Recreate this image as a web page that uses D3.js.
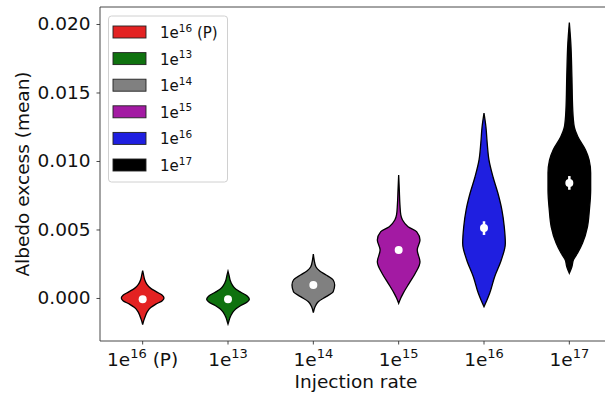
<!DOCTYPE html>
<html><head><meta charset="utf-8">
<script src="https://cdn.jsdelivr.net/npm/d3@7"></script>
<style>body{margin:0;background:#fff}svg{display:block}text{font-family:"DejaVu Sans",sans-serif}</style>
</head><body><svg id="c" width="605" height="395"></svg>
<script>
// ---- data ----
const categories = ["1e16 (P)", "1e13", "1e14", "1e15", "1e16", "1e17"];
const labelBase = ["1e", "1e", "1e", "1e", "1e", "1e"];
const labelExp = ["16", "13", "14", "15", "16", "17"];
const labelSuffix = [" (P)", "", "", "", "", ""];
const colors = ["#e32222", "#0f720f", "#808080", "#a31aa3", "#1f1fe0", "#000000"];
const means = [-0.0001, -0.0001, 0.00095, 0.0035, 0.0051, 0.0084];
const meanErr = [0.0001, 0.0001, 0.0001, 0.00015, 0.0005, 0.0005];
// violin profiles: [value, relative density]
const profRed = [[0.00200,0],[0.00170,0.04],[0.00135,0.09],[0.00100,0.2],[0.00070,0.38],[0.00045,0.65],[0.00020,0.92],[0.0,1.0],[-0.00020,0.92],[-0.00045,0.62],[-0.00070,0.38],[-0.00100,0.22],[-0.00135,0.12],[-0.00165,0.05],[-0.00195,0]];
const profGreen = [[0.00195,0],[0.00165,0.05],[0.0013,0.1],[0.00095,0.2],[0.00065,0.36],[0.0004,0.62],[0.00015,0.9],[-0.0001,1.0],[-0.0003,0.9],[-0.00055,0.6],[-0.0008,0.36],[-0.0011,0.2],[-0.0014,0.1],[-0.0017,0.04],[-0.0019,0]];
const profGray = [[0.00321,0],[0.00277,0.04],[0.00228,0.12],[0.00197,0.3],[0.00168,0.6],[0.00131,0.93],[0.00095,1.0],[0.00046,0.93],[0.0001,0.6],[-0.00027,0.23],[-0.00064,0.08],[-0.00107,0]];
const profPurple = [[0.00898,0],[0.00788,0.03],[0.00679,0.06],[0.00606,0.1],[0.00569,0.18],[0.0052,0.44],[0.00484,0.84],[0.00423,1.0],[0.0035,0.87],[0.00265,1.0],[0.0018,0.78],[0.00107,0.49],[0.00034,0.21],[0.0,0.1],[-0.00039,0]];
const profBlue = [[0.0135,0],[0.0125,0.09],[0.0113,0.15],[0.0101,0.23],[0.00885,0.42],[0.00766,0.65],[0.00642,0.84],[0.0052,0.95],[0.004,1.0],[0.00277,0.81],[0.00155,0.5],[0.00036,0.27],[-0.00015,0.14],[-0.00064,0]];
const profBlack = [[0.0201,0],[0.0186,0.07],[0.01619,0.12],[0.01372,0.16],[0.0125,0.23],[0.01177,0.4],[0.0108,0.76],[0.01007,0.93],[0.00912,1.0],[0.00788,1.0],[0.00642,0.94],[0.0052,0.85],[0.00401,0.62],[0.00328,0.39],[0.00277,0.19],[0.00228,0.12],[0.0018,0]];
const profiles = [profRed, profGreen, profGray, profPurple, profBlue, profBlack];
const yTicks = [0, 0.005, 0.010, 0.015, 0.020];
const yDomain = [-0.00314, 0.02124];

// ---- layout ----
const L = 100, R = 612, T = 7, B = 341;
const svg = d3.select("#c");
const x = d3.scaleBand().domain(categories).range([L, R]).padding(0);
const y = d3.scaleLinear().domain(yDomain).range([B, T]);
const halfMax = x.bandwidth() * 0.25;

// violins
categories.forEach((c, i) => {
  const cx = x(c) + x.bandwidth() / 2;
  const area = d3.area()
    .y(d => y(d[0]))
    .x0(d => cx - d[1] * halfMax)
    .x1(d => cx + d[1] * halfMax)
    .curve(d3.curveMonotoneY);
  svg.append("path").attr("d", area(profiles[i]))
    .attr("fill", colors[i]).attr("stroke", "#000").attr("stroke-width", 1.3);
  svg.append("line").attr("x1", cx).attr("x2", cx)
    .attr("y1", y(means[i] - meanErr[i])).attr("y2", y(means[i] + meanErr[i]))
    .attr("stroke", "#fff").attr("stroke-width", 2.5);
  svg.append("circle").attr("cx", cx).attr("cy", y(means[i])).attr("r", 4).attr("fill", "#fff");
});

// axes
const gy = svg.append("g").attr("transform", `translate(${L},0)`)
  .call(d3.axisLeft(y).tickValues(yTicks).tickFormat(d3.format(".3f")).tickSize(3.5).tickPadding(6));
const gx = svg.append("g").attr("transform", `translate(0,${B})`)
  .call(d3.axisBottom(x).tickSize(3.5).tickPadding(6));
[gy, gx].forEach(g => {
  g.select(".domain").remove();
  g.selectAll(".tick line").attr("stroke", "#333").attr("stroke-width", 0.9);
  g.selectAll("text").attr("font-family", "DejaVu Sans").attr("font-size", 18.5).attr("fill", "#111");
});
gx.selectAll(".tick text").each(function(d, i) {
  const t = d3.select(this).text(null).attr("dy", null).attr("y", 25);
  t.append("tspan").text(labelBase[i]);
  t.append("tspan").text(labelExp[i]).attr("font-size", 13).attr("dy", -8);
  t.append("tspan").text(labelSuffix[i]).attr("dy", 8);
});
// spines
svg.append("path").attr("d", `M${R},${T}H${L}V${B}H${R}`).attr("fill", "none").attr("stroke", "#333").attr("stroke-width", 0.9);

// axis labels
svg.append("text").attr("x", (L + R) / 2).attr("y", 388).attr("text-anchor", "middle")
  .attr("font-size", 18.5).attr("fill", "#111").text("Injection rate");
svg.append("text").attr("transform", `translate(29,${(T + B) / 2}) rotate(-90)`).attr("text-anchor", "middle")
  .attr("font-size", 18.5).attr("fill", "#111").text("Albedo excess (mean)");

// legend
const lg = svg.append("g");
lg.append("rect").attr("x", 108.5).attr("y", 16).attr("width", 119).attr("height", 166)
  .attr("rx", 3).attr("fill", "#fff").attr("fill-opacity", 0.85).attr("stroke", "#d0d0d0");
categories.forEach((c, i) => {
  const cy = 32 + i * 26.6;
  lg.append("rect").attr("x", 113).attr("y", cy - 6).attr("width", 33).attr("height", 12)
    .attr("fill", colors[i]).attr("stroke", "#222").attr("stroke-width", 0.9);
  const t = lg.append("text").attr("x", 160).attr("y", cy + 6).attr("font-size", 15).attr("fill", "#111");
  t.append("tspan").text(labelBase[i]);
  t.append("tspan").text(labelExp[i]).attr("font-size", 10.5).attr("dy", -6.5);
  t.append("tspan").text(labelSuffix[i]).attr("dy", 6.5);
});
</script></body></html>
